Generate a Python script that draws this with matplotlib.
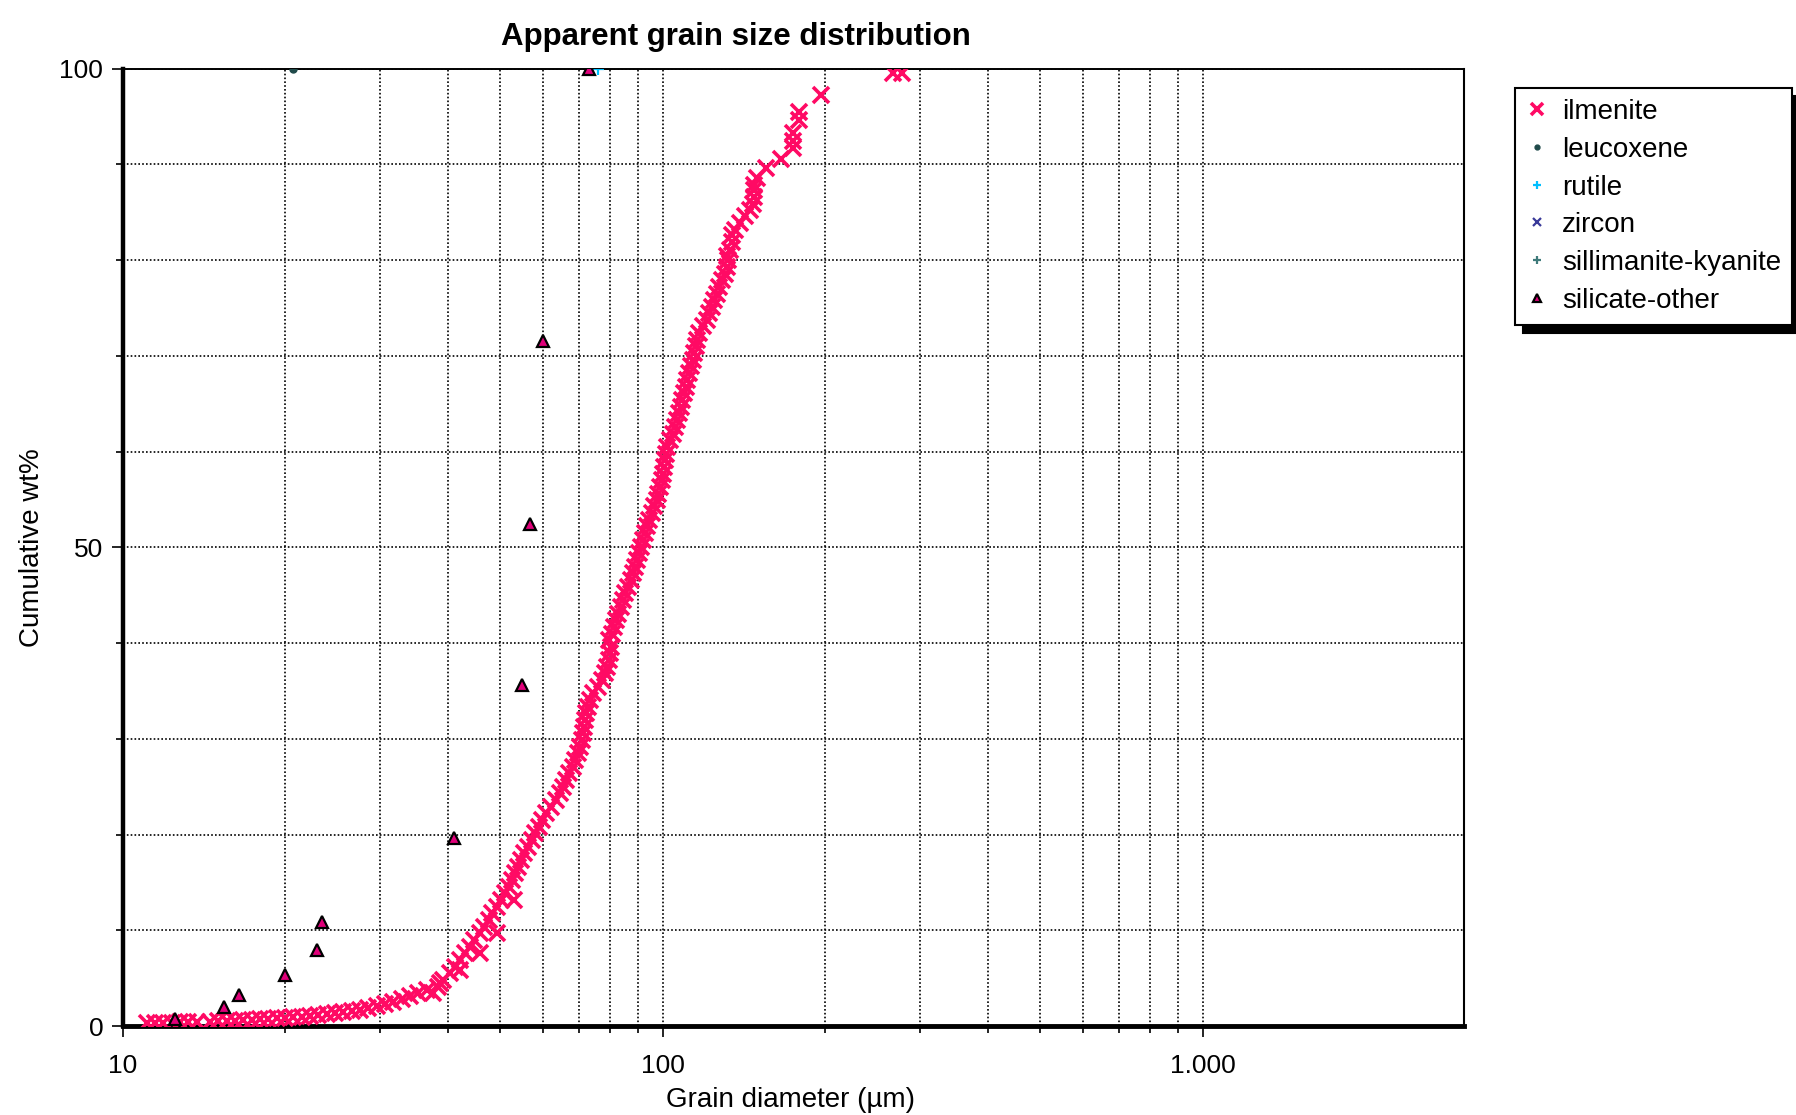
import numpy as np
import matplotlib
matplotlib.use("Agg")
from matplotlib import pyplot as plt
from matplotlib.ticker import FixedLocator, FixedFormatter, NullFormatter

plt.rcParams['font.family'] = ['Liberation Sans', 'DejaVu Sans']

# ilmenite: grain diameter (um) and cumulative wt%
ilm_d = [11.08, 11.48, 11.90, 12.33, 12.77, 13.23, 13.71, 14.52, 15.04, 15.58,
         16.15, 16.73, 17.34, 17.97, 18.62, 19.29, 19.99, 20.71, 21.46, 22.23,
         23.04, 23.87, 24.74, 25.63, 26.56, 27.51, 28.52, 29.54, 30.61, 31.72,
         32.87, 34.06, 35.3, 36.6, 38.7, 42.1, 45.9, 49.3, 53.0,
         37.5, 38.3, 39.2, 40.3, 41.3, 42.2, 43.0, 43.9, 44.8, 45.8,
         46.7, 47.6, 48.4, 49.3, 50.3, 51.1, 51.9, 52.5, 53.2, 53.9,
         54.6, 55.4, 56.4, 57.3, 58.1, 58.9, 59.7, 60.8, 62.1, 63.5,
         64.6, 65.5, 66.3, 67.2, 68.1, 68.9, 69.7, 70.3, 70.8, 71.1,
         71.4, 71.7, 72.1, 72.6, 73.4, 74.4, 76.0, 77.3, 78.3, 79.0,
         79.5, 79.9, 80.3,
         79.7, 80.5, 81.1, 82.0, 82.8, 83.6, 84.3, 85.3, 86.4, 87.3,
         88.0, 88.9, 89.8, 90.6, 91.3, 92.1, 92.9, 93.7, 94.5, 95.6,
         96.5, 97.5, 98.2, 98.9, 99.6, 100.0, 100.6, 101.0, 101.5, 102.0,
         103.2, 104.4, 105.4, 106.5, 107.4, 108.0, 108.5, 109.5, 110.5, 111.1,
         111.9, 112.7, 113.7, 114.3, 115.3, 116.0, 117.0, 118.9, 120.7, 122.0,
         123.3, 124.5, 125.9, 127.4, 128.6, 130.5, 131.4, 132.4,
         131.4, 133.3, 134.3, 134.3, 136.2, 139.1, 142.1, 145.2, 147.2, 147.6,
         147.6, 147.6, 149.4, 155.4, 165.4, 174.6, 174.6, 174.6, 179.2, 179.2,
         196.2, 267.5, 277.2]
ilm_cum = [0.38, 0.38, 0.38, 0.38, 0.42, 0.42, 0.42, 0.49, 0.52, 0.56,
           0.59, 0.63, 0.66, 0.73, 0.77, 0.84, 0.90, 0.94, 1.01, 1.08,
           1.15, 1.25, 1.36, 1.46, 1.60, 1.74, 1.91, 2.09, 2.33, 2.58,
           2.85, 3.13, 3.45, 3.79, 4.5, 5.9, 7.6, 9.7, 13.2,
           3.45, 4.14, 4.84, 5.54, 6.23, 6.93, 7.62, 8.32, 9.02, 9.71,
           10.41, 11.1, 11.8, 12.5, 13.19, 13.89, 14.58, 15.28, 15.98, 16.67,
           17.37, 18.07, 18.76, 19.46, 20.15, 20.85, 21.55, 22.24, 22.94, 23.63,
           24.33, 25.03, 25.72, 26.42, 27.11, 27.81, 28.51, 29.2, 29.9, 30.6,
           31.29, 31.99, 32.68, 33.38, 34.08, 34.77, 35.47, 36.16, 36.86, 37.56,
           38.25, 38.95, 39.6,
           40.3, 41.0, 41.7, 42.4, 43.1, 43.8, 44.5, 45.2, 45.9, 46.6,
           47.3, 48.0, 48.7, 49.4, 50.1, 50.8, 51.5, 52.2, 52.9, 53.6,
           54.3, 55.0, 55.6, 56.3, 57.0, 57.7, 58.4, 59.1, 59.8, 60.5,
           61.2, 61.9, 62.6, 63.3, 64.0, 64.7, 65.4, 66.1, 66.8, 67.5,
           68.2, 68.9, 69.6, 70.3, 71.0, 71.7, 72.4, 73.1, 73.8, 74.5,
           75.1, 75.8, 76.5, 77.2, 77.9, 78.6, 79.3, 80.0,
           80.4, 81.1, 81.9, 82.6, 83.2, 83.9, 84.6, 85.2, 85.9, 86.6,
           87.3, 87.9, 88.6, 89.6, 90.6, 91.7, 92.4, 93.3, 94.6, 95.5,
           97.2, 99.6, 99.6]

leu_d = [20.7]
leu_cum = [100.0]

rut_d = [75.9]
rut_cum = [100.0]

zir_d = []
zir_cum = []

sil_d = []
sil_cum = []

oth_d = [12.5, 15.4, 16.4, 20.0, 22.9, 23.4, 41.0, 54.8, 56.9, 60.0, 73.1]
oth_cum = [0.8, 2.0, 3.3, 5.3, 8.0, 10.9, 19.7, 35.6, 52.5, 71.6, 100.0]

x_major = [10, 100, 1000]
x_major_labels = ["10", "100", "1.000"]
x_minor = [20, 30, 40, 50, 60, 70, 80, 90, 200, 300, 400, 500, 600, 700, 800, 900]
y_major = [0, 50, 100]
y_minor = [10, 20, 30, 40, 60, 70, 80, 90]

fig = plt.figure(figsize=(17.96, 11.15), dpi=100)
ax = fig.add_axes([0.0683, 0.0796, 0.7467, 0.8588])

ax.plot(ilm_d, ilm_cum, linestyle='none', marker='x', color='#FF0A64',
        markersize=11.5, markeredgewidth=2.6, label='ilmenite', zorder=3)
ax.plot(leu_d, leu_cum, linestyle='none', marker='o', color='#1F4A4A',
        markersize=5, label='leucoxene', zorder=4)
ax.plot(rut_d, rut_cum, linestyle='none', marker='+', color='#00BFFF',
        markersize=9, markeredgewidth=1.6, label='rutile', zorder=4)
ax.plot(zir_d, zir_cum, linestyle='none', marker='x', color='#3A3A99',
        markersize=9, markeredgewidth=1.6, label='zircon', zorder=4)
ax.plot(sil_d, sil_cum, linestyle='none', marker='+', color='#3F7A7A',
        markersize=9, markeredgewidth=1.6, label='sillimanite-kyanite', zorder=4)
ax.plot(oth_d, oth_cum, linestyle='none', marker='^', markerfacecolor='#E0007A',
        markeredgecolor='black', markersize=8.5, markeredgewidth=1.6,
        label='silicate-other', zorder=5)

ax.set_xscale('log')
ax.set_xlim(10, 3045)
ax.set_ylim(0, 100)

ax.xaxis.set_major_locator(FixedLocator(x_major))
ax.xaxis.set_major_formatter(FixedFormatter(x_major_labels))
ax.xaxis.set_minor_locator(FixedLocator(x_minor))
ax.xaxis.set_minor_formatter(NullFormatter())
ax.yaxis.set_major_locator(FixedLocator(y_major))
ax.yaxis.set_minor_locator(FixedLocator(y_minor))

ax.grid(True, which='both', color='black', linestyle=(0, (1, 1.3)), linewidth=1.2)
ax.set_axisbelow(True)

ax.tick_params(axis='both', which='major', direction='out', length=8, width=1.2,
               labelsize=19)
ax.tick_params(axis='x', which='major', pad=12)
ax.tick_params(axis='y', which='major', pad=6)
ax.tick_params(axis='both', which='minor', direction='out', length=5, width=1.2)

ax.spines['left'].set_linewidth(3.2)
ax.spines['bottom'].set_linewidth(3.5)
ax.spines['right'].set_linewidth(1.5)
ax.spines['top'].set_linewidth(1.4)
ax.spines['top'].set_linestyle((0, (1, 1)))

fig.text(0.41, 0.967, "Apparent grain size distribution", ha='center', va='center',
         fontsize=22.5, fontweight='bold')
fig.text(0.44, 0.0138, "Grain diameter (\u00b5m)", ha='center', va='center', fontsize=20)
fig.text(0.0178, 0.509, "Cumulative wt%", ha='center', va='center', rotation=90,
         fontsize=20)

leg = ax.legend(loc='upper left', bbox_to_anchor=(0.8435, 0.921),
                bbox_transform=fig.transFigure, borderaxespad=0, fontsize=20,
                frameon=True, fancybox=False, edgecolor='black', framealpha=1,
                shadow={'color': 'black', 'alpha': 1.0, 'ox': 6, 'oy': -6},
                handlelength=0.8, handletextpad=0.5, labelspacing=0.42,
                borderpad=0.4, markerscale=0.7)
leg.get_frame().set_linewidth(1.5)

fig.savefig("out.png", dpi=100)
